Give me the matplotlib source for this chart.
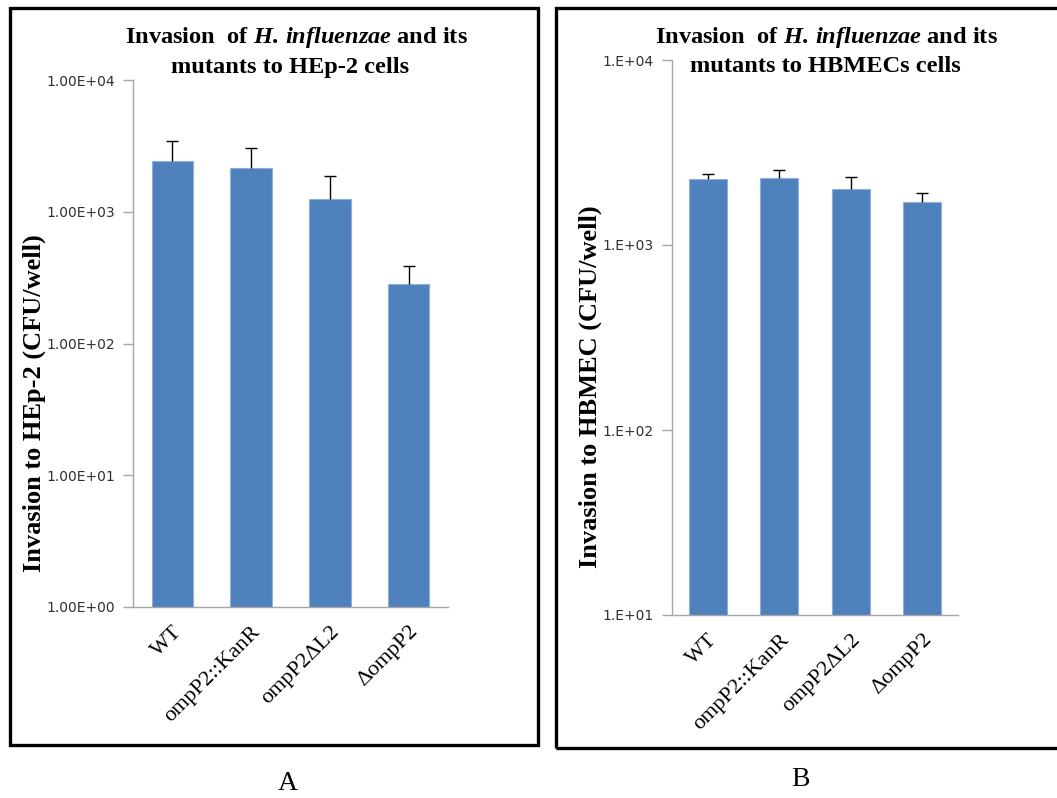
import matplotlib
matplotlib.use("Agg")
import matplotlib.pyplot as plt
from matplotlib.patches import Rectangle
from matplotlib.ticker import FixedLocator, NullLocator
import numpy as np

plt.rcParams["mathtext.fontset"] = "custom"
plt.rcParams["mathtext.it"] = "Liberation Serif:italic:bold"
plt.rcParams["mathtext.rm"] = "Liberation Serif:bold"

# Strains
strains = ["WT", "ompP2::KanR", "ompP2\u0394L2", "\u0394ompP2"]

# Panel A: invasion of HEp-2 cells (CFU/well)
hep2_mean = [2410, 2160, 1240, 283]
hep2_err = [1050, 890, 625, 104]
hep2_ticks = [1e0, 1e1, 1e2, 1e3, 1e4]
hep2_ticklabels = ["1.00E+00", "1.00E+01", "1.00E+02", "1.00E+03", "1.00E+04"]

# Panel B: invasion of HBMEC cells (CFU/well)
hbmec_mean = [2265, 2295, 2000, 1700]
hbmec_err = [145, 240, 340, 200]
hbmec_ticks = [1e1, 1e2, 1e3, 1e4]
hbmec_ticklabels = ["1.E+01", "1.E+02", "1.E+03", "1.E+04"]

BAR = "#4F81BD"
AXIS = "#A6A6A6"
W, H = 1057, 798

fig = plt.figure(figsize=(W / 100, H / 100), dpi=100)


def px_axes(x0, y0, x1, y1):
    return fig.add_axes([x0 / W, 1 - y1 / H, (x1 - x0) / W, (y1 - y0) / H])


def draw_panel(ax, means, errs, ticks, ticklabels):
    x = np.arange(len(strains))
    ax.bar(x, means, width=0.53, color=BAR, edgecolor="#8EB0DA", linewidth=0.8,
           zorder=2)
    # upper error bars only
    _, caps, _ = ax.errorbar(x, means, yerr=[np.zeros(len(errs)), errs],
                             fmt="none", ecolor="black", elinewidth=1.0,
                             capsize=4.3, capthick=1.0, zorder=3)
    caps[0].set_visible(False)
    ax.set_yscale("log")
    ax.set_ylim(ticks[0], ticks[-1])
    ax.set_xlim(-0.5, len(strains) - 0.5)
    ax.yaxis.set_major_locator(FixedLocator(ticks))
    ax.yaxis.set_minor_locator(NullLocator())
    ax.set_yticklabels(ticklabels, fontfamily="DejaVu Sans", fontsize=10.0,
                       color="#303030")
    ax.set_xticks(x)
    ax.set_xticklabels(strains, rotation=45, ha="right", va="top",
                       rotation_mode="anchor", fontfamily="Liberation Serif",
                       fontsize=16)
    ax.tick_params(axis="x", length=0, pad=11)
    ax.tick_params(axis="y", length=7.5, width=1.0, color=AXIS, pad=5.5,
                   direction="out")
    for side in ("top", "right"):
        ax.spines[side].set_visible(False)
    for side in ("left", "bottom"):
        ax.spines[side].set_color(AXIS)
        ax.spines[side].set_linewidth(1.0)
    ax.patch.set_alpha(0)


axA = px_axes(133, 80, 448, 607)
draw_panel(axA, hep2_mean, hep2_err, hep2_ticks, hep2_ticklabels)

axB = px_axes(672, 60, 958, 615)
draw_panel(axB, hbmec_mean, hbmec_err, hbmec_ticks, hbmec_ticklabels)

title_font = dict(fontfamily="Liberation Serif", fontweight="bold", fontsize=17.6)
label_font = dict(fontfamily="Liberation Serif", fontweight="bold", fontsize=19)

title_line1 = r"Invasion  of $\mathit{H.\,influenzae}$ and its"

# Titles
fig.text(296 / W, 1 - 37 / H, title_line1, ha="center", va="center",
         **title_font)
fig.text(290 / W, 1 - 67 / H, "mutants to HEp-2 cells", ha="center",
         va="center", **title_font)
fig.text(826 / W, 1 - 37 / H, title_line1, ha="center", va="center",
         **title_font)
fig.text(825 / W, 1 - 67 / H, "mutants to HBMECs cells", ha="center",
         va="center", **title_font)

# Axis titles
fig.text(34 / W, 1 - 403 / H, "Invasion to HEp-2 (CFU/well)", rotation=90,
         ha="center", va="center", **label_font)
fig.text(590 / W, 1 - 387 / H, "Invasion to HBMEC (CFU/well)", rotation=90,
         ha="center", va="center", **label_font)

# Panel frames
fig.add_artist(Rectangle((10 / W, 1 - 745 / H), 528 / W, 737 / H,
                         transform=fig.transFigure, fill=False,
                         edgecolor="black", linewidth=2.4))
fig.add_artist(Rectangle((556 / W, 1 - 748 / H), 520 / W, 740 / H,
                         transform=fig.transFigure, fill=False,
                         edgecolor="black", linewidth=2.4))

# Panel letters
fig.text(288 / W, 1 - 783 / H, "A", ha="center", va="center",
         fontfamily="Liberation Serif", fontsize=20)
fig.text(800 / W, 1 - 780 / H, "B", ha="center", va="center",
         fontfamily="Liberation Serif", fontsize=20)

fig.savefig("out.png", dpi=100, facecolor="white")
